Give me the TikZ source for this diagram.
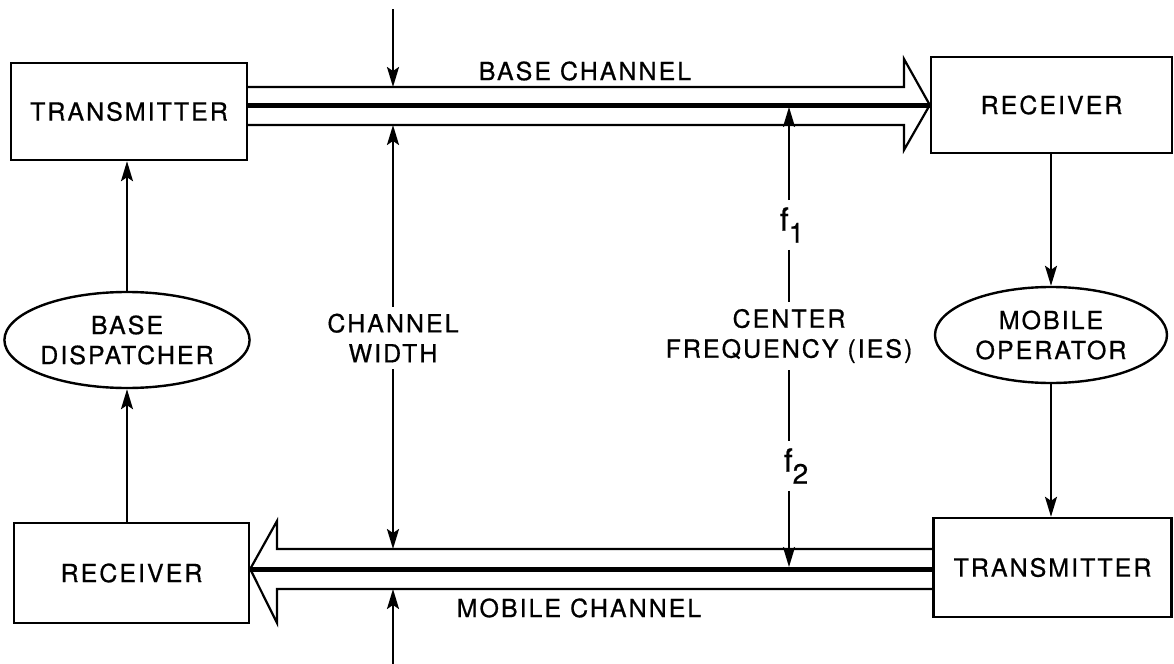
\documentclass[tikz,border=0pt]{standalone}
\usepackage{fontspec}
\setmainfont{TeX Gyre Heros}[LetterSpace=8, FakeBold=0.6]
\usetikzlibrary{arrows.meta, shapes.geometric}

\tikzset{
    unit/.style={rectangle, draw, line width=1.2pt, inner sep=0pt},
    role/.style={ellipse, draw, line width=1.2pt, inner sep=0pt, align=center},
    sig/.style={line width=1.1pt, -{Stealth[length=10pt, width=6pt, inset=2pt]}},
    band/.style={line width=1.1pt, line join=miter},
    midline/.style={line width=2.5pt},
    freq/.style={font=\fontsize{16}{16}\selectfont}
}

\begin{document}
\begin{tikzpicture}[x=0.5pt, y=-0.5pt, font=\fontsize{12.5}{15}\selectfont]
    \useasboundingbox (0,0) rectangle (1174,664);

    % band heights (upper line, centre line, lower line)
    \def\bAtop{87}  \def\bAmid{105} \def\bAbot{125}
    \def\bBtop{549} \def\bBmid{569} \def\bBbot{589}

    % --- Boxes ---
    \node[unit, minimum width=118pt, minimum height=48.5pt] (txA) at (129,111.5) {TRANSMITTER};
    \node[unit, minimum width=120.5pt, minimum height=48pt] (rxA) at (1051.5,105) {RECEIVER};
    \node[unit, minimum width=117.5pt, minimum height=50pt] (rxB) at (131.5,573) {RECEIVER};
    \node[unit, minimum width=119pt, minimum height=49.5pt] (txB) at (1052.5,567.5) {TRANSMITTER};

    % --- Operators ---
    \node[role, minimum width=115pt, minimum height=48pt] (disp) at (127,340) {BASE\\DISPATCHER};
    \node[role, minimum width=116pt, minimum height=48pt] (oper) at (1051,335) {MOBILE\\OPERATOR};

    % --- Base channel (hollow arrow to the right) ---
    \draw[band] (txA.east |- 0,\bAtop) -- (904,\bAtop) -- (904,59)
        -- (rxA.west |- 0,\bAmid) -- (904,150) -- (904,\bAbot) -- (txA.east |- 0,\bAbot);
    \draw[midline] (txA.east |- 0,\bAmid) -- (rxA.west |- 0,\bAmid);
    \node (lblBase) at (585,71) {BASE CHANNEL};

    % --- Mobile channel (hollow arrow to the left) ---
    \draw[band] (txB.west |- 0,\bBtop) -- (277,\bBtop) -- (277,521)
        -- (rxB.east |- 0,\bBmid) -- (277,623) -- (277,\bBbot) -- (txB.west |- 0,\bBbot);
    \draw[midline] (txB.west |- 0,\bBmid) -- (rxB.east |- 0,\bBmid);
    \node (lblMobile) at (579,608) {MOBILE CHANNEL};

    % --- Message flow ---
    \draw[sig] (disp.south |- rxB.north) -- (disp.south);
    \draw[sig] (disp.north) -- (disp.north |- txA.south);
    \draw[sig] (oper.north |- rxA.south) -- (oper.north);
    \draw[sig] (oper.south) -- (oper.south |- txB.north);

    % --- Channel width ---
    \coordinate (wTop) at (393,9);
    \coordinate (wBot) at (393,664);
    \coordinate (wA1) at (393,\bAtop);
    \coordinate (wA2) at (393,\bAbot);
    \coordinate (wB1) at (393,\bBtop);
    \coordinate (wB2) at (393,\bBbot);
    \node[align=center] (lblWidth) at (393,338) {CHANNEL\\WIDTH};
    \draw[sig] (wTop) -- (wA1);
    \draw[sig] (lblWidth.north) -- (wA2);
    \draw[sig] (lblWidth.south) -- (wB1);
    \draw[sig] (wBot) -- (wB2);

    % --- Centre frequencies ---
    \coordinate (cA) at (789,107);
    \coordinate (cB) at (789,567);
    \node[freq] (fA) at (792,225) {f\raisebox{-6pt}{\fontsize{14}{14}\selectfont 1}};
    \node[freq] (fB) at (796,466) {f\raisebox{-6pt}{\fontsize{14}{14}\selectfont 2}};
    \node[align=center] (lblCenter) at (789,336) {CENTER\\FREQUENCY (IES)};
    \draw[sig] (cA |- fA.north) -- (cA);
    \draw[line width=1.1pt] (cA |- fA.south) -- (cA |- lblCenter.north);
    \draw[line width=1.1pt] (cA |- lblCenter.south) -- (cA |- fB.north);
    \draw[sig] (cA |- fB.south) -- (cB);
\end{tikzpicture}
\end{document}
